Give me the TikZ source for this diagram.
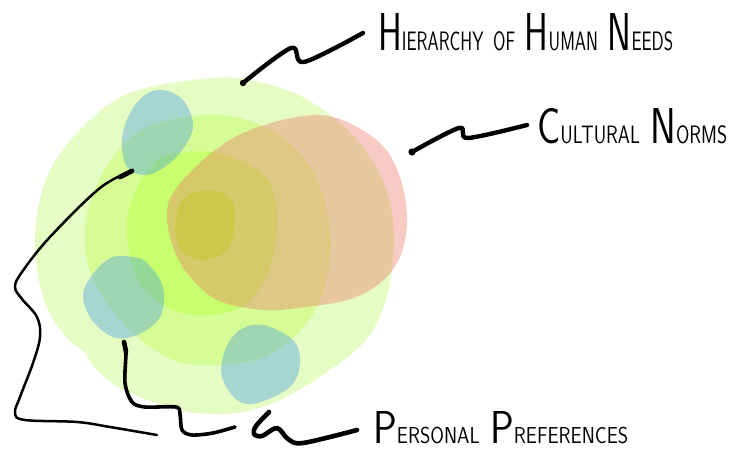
\documentclass[tikz,border=0pt]{standalone}
\usepackage{fontspec}
\usepackage{graphicx}
\definecolor{gOuter}{RGB}{229,252,196}
\definecolor{gMid}{RGB}{214,252,150}
\definecolor{gBright}{RGB}{200,255,110}
\definecolor{gInner}{RGB}{182,252,57}
\definecolor{redN}{RGB}{237,117,102}
\definecolor{tealP}{RGB}{32,130,235}
\newcommand\BigSm[2]{{\fontsize{52}{52}\selectfont #1}{\fontsize{26}{26}\selectfont #2}}
\newcommand\SmOnly[1]{{\fontsize{26}{26}\selectfont #1}}
\newcommand\Gap{\hspace{14pt}}
\tikzset{
  ring/.style={draw=none},
  normblob/.style={draw=none, fill=redN, fill opacity=0.385},
  prefblob/.style={draw=none, fill=tealP, fill opacity=0.31},
  ink/.style={draw=black, line cap=round, line join=round},
  label/.style={anchor=base west, inner sep=0pt, font=\sffamily},
  dot/.style={fill=black, draw=none}
}
\begin{document}
\begin{tikzpicture}[x=1pt, y=-1pt]
\useasboundingbox (0,0) rectangle (729,450);
% hierarchy rings
\fill[ring, gOuter] plot[smooth cycle, tension=0.6] coordinates {(213,78) (130,93) (80,130) (47,177) (35,237) (43,297) (63,333) (85,353) (97,370) (130,393) (197,413) (263,407) (330,370) (373,330) (392,270) (390,203) (363,147) (313,103) (263,83)};
\fill[ring, gMid] plot[smooth cycle, tension=0.6] coordinates {(203,115) (147,127) (113,157) (90,203) (85,247) (97,287) (130,330) (173,360) (213,365) (263,357) (307,323) (327,277) (330,230) (317,180) (290,143) (247,120)};
\fill[ring, gBright] plot[smooth cycle, tension=0.6] coordinates {(190,152) (157,160) (133,197) (127,237) (140,283) (173,310) (210,315) (247,303) (270,267) (277,220) (270,183) (243,162) (217,153)};
\fill[ring, gInner] plot[smooth cycle, tension=0.6] coordinates {(207,190) (183,200) (175,227) (183,252) (203,260) (227,250) (235,220) (230,198)};
% cultural norms
\fill[normblob] plot[smooth cycle, tension=0.6] coordinates {(297,117) (337,118) (380,143) (400,177) (407,220) (400,257) (380,283) (347,300) (297,308) (263,310) (217,300) (187,273) (173,247) (167,217) (173,193) (203,160) (243,133)};
% personal preferences
\fill[prefblob] plot[smooth cycle, tension=0.6] coordinates {(163,90) (183,100) (193,123) (187,143) (170,163) (147,175) (127,167) (122,140) (130,113) (145,95)};
\fill[prefblob] plot[smooth cycle, tension=0.6] coordinates {(133,257) (147,263) (163,287) (160,317) (137,335) (113,337) (92,320) (83,297) (90,278) (110,258)};
\fill[prefblob] plot[smooth cycle, tension=0.6] coordinates {(263,325) (293,340) (300,363) (290,387) (257,403) (237,400) (222,377) (225,350) (240,330)};
% labels
\node[label] (hier) at (378,50) {\resizebox{295pt}{37pt}{\BigSm{H}{IERARCHY}\Gap\SmOnly{OF}\Gap\BigSm{H}{UMAN}\Gap\BigSm{N}{EEDS}}};
\node[label] (norms) at (537,143) {\resizebox{190pt}{35pt}{\BigSm{C}{ULTURAL}\Gap\BigSm{N}{ORMS}}};
\node[label] (pref) at (373,443) {\resizebox{255pt}{32pt}{\BigSm{P}{ERSONAL}\Gap\BigSm{P}{REFERENCES}}};
% connector end points
\coordinate (hA) at (243,83);
\coordinate (hB) at (363,33);
\coordinate (nA) at (412,152);
\coordinate (nB) at (527,125);
\coordinate (p1A) at (132,171);
\coordinate (p1B) at (157,435);
\coordinate (p2A) at (124,342);
\coordinate (p2B) at (235,427);
\coordinate (p3A) at (269,412);
\coordinate (p3B) at (357,430);
% connectors
\draw[ink, line width=4.4pt] plot[smooth, tension=0.55] coordinates {(hA) (291,48) (304,62) (hB)};
\fill[dot] (hA) circle (3.2);
\draw[ink, line width=4.4pt] plot[smooth, tension=0.55] coordinates {(nA) (459,128) (468,138) (nB)};
\fill[dot] (nA) circle (3.6);
\draw[ink, line width=2.5pt] plot[smooth, tension=0.6] coordinates {(p1A) (100,188) (50,237) (22,272) (15,287) (22,299) (37,317) (40,337) (33,363) (20,397) (15,413) (25,420) (77,422) (110,427) (p1B)};
\draw[ink, line width=4.8pt] (p1A) -- (120,177);
\draw[ink, line width=3.6pt] plot[smooth, tension=0.5] coordinates {(p2A) (126,352) (125,383) (132,402) (145,407) (176,407) (180,414) (182,430) (192,435) (213,433) (p2B)};
\draw[ink, line width=4.6pt] (p2A) -- (126,352);
\draw[ink, line width=4.6pt] plot[smooth, tension=0.55] coordinates {(p3A) (256,426) (254,434) (262,436) (277,428) (288,439) (303,443) (p3B)};
\end{tikzpicture}
\end{document}
